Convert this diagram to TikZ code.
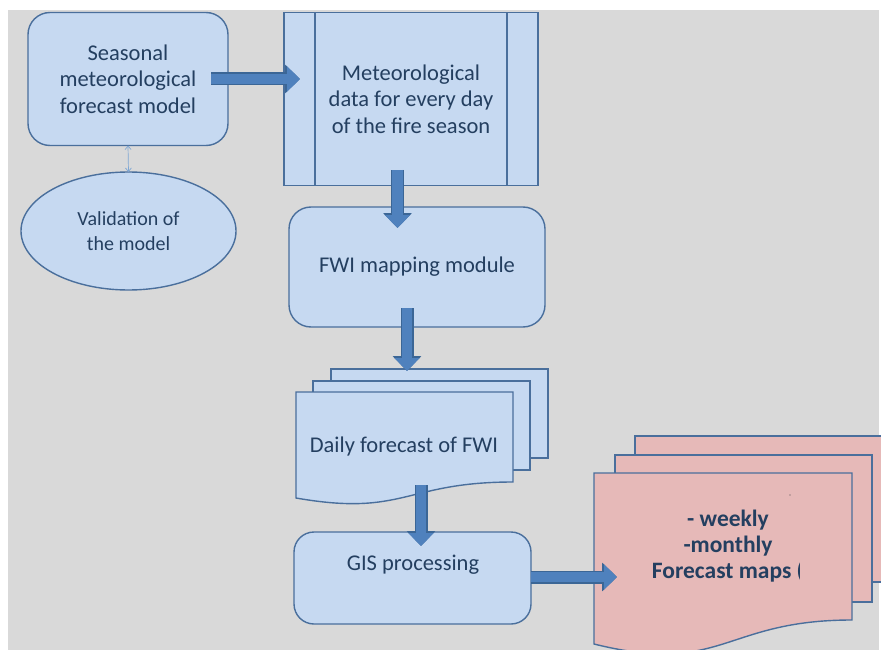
\documentclass[tikz,border=0pt]{standalone}
\usepackage{fontspec}
\setmainfont{Carlito}
\usetikzlibrary{arrows.meta,shapes.geometric}
\definecolor{bggray}{HTML}{D9D9D9}
\definecolor{boxfill}{HTML}{C6D9F1}
\definecolor{boxline}{HTML}{4A6F9C}
\definecolor{pinkfill}{HTML}{E6B9B8}
\definecolor{arrfill}{HTML}{4F81BD}
\definecolor{arrline}{HTML}{3B6696}
\definecolor{txt}{HTML}{243F60}
\definecolor{thinarr}{HTML}{7FA7D4}
\tikzset{
  boxstyle/.style={draw=boxline, fill=boxfill, line width=1.4pt, inner sep=0pt, outer sep=0pt, text=txt, align=center},
  roundbox/.style={boxstyle, rectangle, rounded corners=22pt},
  pinkstyle/.style={draw=boxline, fill=pinkfill, line width=1.4pt},
  docstyle/.style={draw=boxline, fill=boxfill, line width=1.4pt},
  txtnode/.style={text=txt, align=center, inner sep=0pt},
  blockarrow/.style={preaction={draw=arrline, line width=13pt, -{Triangle[length=15pt,width=28pt]}},
    draw=arrfill, line width=10.5pt, -{Triangle[length=13pt,width=24.5pt]}},
  fs/.style={font=\fontsize{22.5}{26.5}\selectfont},
}
\begin{document}
\begin{tikzpicture}[x=1pt,y=-1pt]
\useasboundingbox (0,0) rectangle (881,650);
\clip (0,0) rectangle (881,650);
\fill[white] (0,0) rectangle (881,650);
\fill[bggray] (8,10) rectangle (879,650);

% top-left boxes
\node[roundbox, fs, minimum width=200pt, minimum height=133pt] (seasonal) at (128,79)
  {Seasonal\\meteorological\\forecast model};
\node[boxstyle, ellipse, minimum width=215pt, minimum height=118pt,
  font=\fontsize{20}{25}\selectfont] (valid) at (128.5,231) {Validation of\\the model};
\draw[thinarr, line width=0.7pt, {Straight Barb[length=3.5pt,width=6pt]}-{Straight Barb[length=3.5pt,width=6pt]}]
  (seasonal.south) -- (valid.north);

% predefined process
\node[boxstyle, rectangle, fs, minimum width=254pt, minimum height=173pt] (metdata) at (411,99)
  {Meteorological\\data for every day\\of the fire season};
\draw[boxline, line width=1.4pt] ([xshift=31pt]metdata.north west) -- ([xshift=31pt]metdata.south west);
\draw[boxline, line width=1.4pt] ([xshift=-31pt]metdata.north east) -- ([xshift=-31pt]metdata.south east);

% FWI module
\node[roundbox, fs, minimum width=256pt, minimum height=120pt] (fwi) at (417,267) {FWI mapping module};

% blue multi-document
\draw[docstyle] (331,369) rectangle (548,458);
\draw[docstyle] (313,381) rectangle (530,470);
\draw[docstyle] (296,392) -- (513,392) -- (513,482) .. controls (404.5,482) and (404.5,517) .. (296,498) -- cycle;
\node[txtnode, fs] (daily) at (404,446) {Daily forecast of FWI};

% GIS
\node[roundbox, rounded corners=20pt, minimum width=237pt, minimum height=92pt] (gis) at (412.5,578) {};
\node[txtnode, fs] (gistxt) at (413,565) {GIS processing};

% pink multi-document
\draw[pinkstyle] (635,436) rectangle (900,582);
\draw[pinkstyle] (615,455) rectangle (872,602);
\draw[pinkstyle] (594,473) -- (852,473) -- (852,620) .. controls (723,620) and (723,676) .. (594,644) -- cycle;
\begin{scope}
\clip (600,480) rectangle (799,600);
\node[txtnode, font=\fontsize{23.5}{26}\bfseries\selectfont] (maps) at (728,546)
  {- weekly\\-monthly\\Forecast maps (};
\end{scope}
\fill[black!70] (790,495) circle (0.7pt);

% block arrows
\coordinate (a1s) at (211,79);  \coordinate (a1e) at (300,79);
\coordinate (a2s) at (397.5,170); \coordinate (a2e) at (397.5,228);
\coordinate (a3s) at (407,308); \coordinate (a3e) at (407,371);
\coordinate (a4s) at (421,485); \coordinate (a4e) at (421,546);
\coordinate (a5s) at (531,577); \coordinate (a5e) at (617,577);
\draw[blockarrow] (a1s) -- (a1e);
\draw[blockarrow] (a2s) -- (a2e);
\draw[blockarrow] (a3s) -- (a3e);
\draw[blockarrow] (a4s) -- (a4e);
\draw[blockarrow] (a5s) -- (a5e);
\end{tikzpicture}
\end{document}
